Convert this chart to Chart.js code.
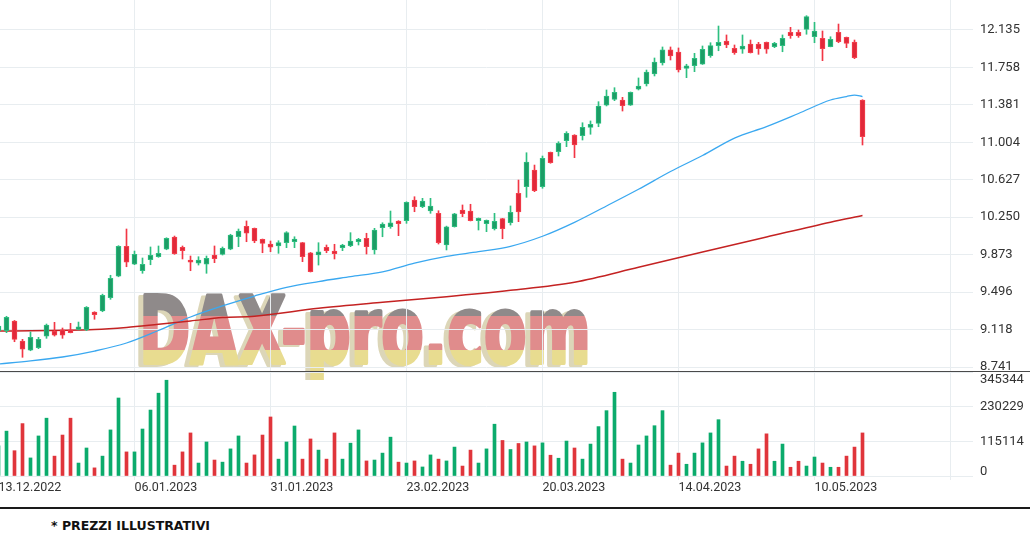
<!DOCTYPE html>
<html><head><meta charset="utf-8">
<script src="https://cdn.jsdelivr.net/npm/chart.js@4.4.0/dist/chart.umd.min.js"></script>
<style>
html,body{margin:0;padding:0;background:#fff;}
body{width:1030px;height:534px;position:relative;overflow:hidden;}
canvas{position:absolute;left:0;}
#pc{top:0;} #vc{top:372px;}
#wm{position:absolute;left:0;top:0;}
#sep{position:absolute;left:0;top:371px;width:1030px;height:1px;background:#4a4a4a;}
#fline{position:absolute;left:0;top:507px;width:1030px;height:2px;background:#1a1a1a;}
#foot{position:absolute;left:51px;top:519px;font:bold 12.5px/14px 'DejaVu Sans';color:#111;white-space:nowrap;}
</style></head><body>
<svg id="wm" width="1030" height="380">
  <defs>
    <linearGradient id="flag" gradientUnits="userSpaceOnUse" x1="0" y1="290" x2="0" y2="376">
      <stop offset="0" stop-color="#8f8a8a"/>
      <stop offset="0.302" stop-color="#8f8a8a"/>
      <stop offset="0.302" stop-color="#e08c8c"/>
      <stop offset="0.698" stop-color="#e08c8c"/>
      <stop offset="0.698" stop-color="#e8dc90"/>
      <stop offset="1" stop-color="#e8dc90"/>
    </linearGradient>
  </defs>
  <g font-family="DejaVu Sans" font-weight="bold" font-size="92" stroke-linejoin="round">
    <text x="134" y="365" fill="#dcd6b8" stroke="#dcd6b8" stroke-width="4" textLength="452" lengthAdjust="spacingAndGlyphs">DAX-pro.com</text>
    <text x="139" y="363" fill="url(#flag)" stroke="url(#flag)" stroke-width="4" textLength="452" lengthAdjust="spacingAndGlyphs">DAX-pro.com</text>
  </g>
</svg>
<canvas id="pc" width="1030" height="372"></canvas>
<div id="sep"></div>
<canvas id="vc" width="1030" height="128"></canvas>
<div id="fline"></div>
<div id="foot">* PREZZI ILLUSTRATIVI</div>
<script>
// ---- data ----
const xTickIdx = [0, 17, 34, 51, 68, 85, 102, 119];
const xTickLabels = ['13.12.2022', '06.01.2023', '31.01.2023', '23.02.2023', '20.03.2023', '14.04.2023', '10.05.2023', ''];
const priceTicks = [8741, 9118, 9496, 9873, 10250, 10627, 11004, 11381, 11758, 12135];
const volumeTicks = [0, 115114, 230229, 345344];

const opens = [9104,9107,9205,9003,8912,8936,9053,9104,9115,9115,9121,9115,9295,9305,9439,9655,9957,9776,9711,9822,
9852,9927,10050,9947,9819,9786,9776,9869,9876,9927,10053,10158,10138,10027,9980,9960,9993,10003,9993,9892,
9869,9947,9909,9943,9963,10003,10037,9920,10144,10154,10212,10215,10423,10356,10312,10289,9970,10154,10322,10312,
10215,10184,10134,10235,10194,10490,10557,10725,10557,10903,10909,11020,11078,11072,11155,11195,11377,11437,11430,11377,
11538,11591,11692,11803,11934,11913,11749,11775,11790,11876,11977,12024,11951,11941,11994,11994,12011,11967,11977,12112,
12112,12142,12067,12051,11967,12112,12061,12014,11430];
const highs = [9174,9252,9210,9020,9094,9040,9174,9191,9134,9181,9194,9350,9298,9475,9665,9963,10131,9909,9839,9950,
9960,10043,10060,9960,9859,9852,9859,9960,9950,10078,10131,10212,10141,10030,10010,10013,10104,10053,9996,9895,
9993,9970,9977,9977,10094,10037,10088,10138,10194,10312,10215,10405,10456,10440,10440,10315,10160,10289,10373,10380,
10242,10222,10289,10238,10363,10624,10899,10775,10866,10906,11010,11111,11081,11201,11219,11413,11531,11554,11457,11511,
11652,11732,11853,11964,11964,11954,11790,11900,11974,12007,12175,12085,11984,12085,12034,12011,12014,12011,12085,12162,
12135,12279,12212,12125,12067,12195,12064,12034,11433];
const lows = [9084,9087,8996,8839,8905,8926,9030,9053,9030,9085,9115,9107,9222,9298,9423,9650,9751,9772,9685,9771,
9846,9922,9876,9829,9711,9768,9685,9792,9869,9922,9953,10003,9993,9892,9902,9886,9943,9943,9802,9698,
9768,9892,9829,9913,9953,9970,9879,9879,10053,10138,10064,10188,10305,10346,10289,9980,9920,10150,10255,10212,
10121,10104,10121,10033,10171,10205,10450,10507,10541,10793,10866,10960,10849,11027,11085,11161,11370,11423,11319,11375,
11531,11571,11672,11782,11833,11712,11655,11715,11788,11860,11926,11957,11890,11900,11903,11890,11900,11957,11916,12051,
12061,12092,12007,11826,11965,12007,11957,11846,10977];
const closes = [9154,9242,9020,8920,9040,9020,9164,9061,9061,9087,9147,9343,9268,9463,9635,9957,9796,9876,9776,9866,
9886,10037,9882,9913,9796,9819,9836,9832,9937,10071,10111,10088,10010,9987,9947,9993,10094,10030,9852,9701,
9902,9913,9882,9970,10010,10027,9953,10121,10181,10194,10184,10400,10356,10413,10363,9993,10154,10285,10285,10215,
10239,10219,10209,10134,10299,10302,10806,10517,10843,10799,10994,11095,10977,11155,11185,11370,11470,11508,11373,11508,
11571,11712,11813,11934,11873,11732,11775,11850,11941,11977,12011,11984,11906,11974,11906,11947,11941,12001,12051,12077,
12077,12269,12125,11947,12041,12017,12001,11856,11060];
const volumes = [100000,149000,84000,174000,60000,133000,192000,66000,136000,192000,43000,93000,27000,66000,153000,259000,80000,80000,156000,219000,
275000,318000,36000,80000,143000,43000,113000,53000,46000,90000,133000,43000,70000,136000,196000,56000,113000,166000,56000,123000,
86000,56000,143000,56000,109000,153000,50000,53000,76000,129000,46000,43000,50000,30000,70000,56000,50000,96000,33000,86000,
43000,90000,172000,118000,88000,108000,113000,100000,110000,69000,59000,116000,93000,56000,106000,164000,217000,278000,56000,43000,
103000,133000,167000,217000,36000,76000,39000,76000,110000,143000,187000,33000,66000,49000,39000,90000,140000,49000,106000,29000,
49000,33000,63000,43000,29000,29000,66000,96000,143000];

const maFastIdx = [0,4,8,12,16,20,24,28,32,36,40,44,48,52,56,60,64,68,72,76,80,84,88,92,96,100,104,106,107,108];
const maFastVal = [8772,8802,8842,8902,8983,9109,9245,9356,9456,9544,9602,9651,9700,9787,9855,9903,9957,10058,10198,10363,
10531,10710,10871,11047,11162,11294,11430,11465,11480,11465];
const maSlowIdx = [0,12,16,20,24,28,32,40,48,56,64,72,80,88,96,104,108];
const maSlowVal = [9104,9119,9140,9172,9205,9240,9252,9332,9393,9449,9514,9595,9745,9899,10050,10200,10267];

// ---- rendering ----
const idx = opens.map((_, i) => i);
const up = i => closes[i] >= opens[i];
const GRID = '#e8edf0';
const X_MIN = 0.1875, X_MAX = 0.1875 + 973 / 8;
const fmt = v => String(v).replace(/\B(?=(\d{3})+(?!\d))/g, '.');
Chart.defaults.font.family = 'Roboto';

const common = {
  responsive: false, animation: false, devicePixelRatio: 1, events: [],
  layout: { padding: 0 },
  plugins: { legend: { display: false }, tooltip: { enabled: false } }
};

new Chart(document.getElementById('pc'), {
  type: 'bar',
  data: { datasets: [
    { type: 'line', data: maFastIdx.map((x, k) => ({ x, y: maFastVal[k] })), borderColor: '#3aa8f0', borderWidth: 1.3,
      pointRadius: 0, cubicInterpolationMode: 'monotone', order: 6 },
    { type: 'line', data: maSlowIdx.map((x, k) => ({ x, y: maSlowVal[k] })), borderColor: '#c42222', borderWidth: 1.5,
      pointRadius: 0, cubicInterpolationMode: 'monotone', order: 5 },
    { type: 'bar', data: idx.map(i => ({ x: i, y: [lows[i], highs[i]] })), barThickness: 1, grouped: false, borderWidth: 0,
      backgroundColor: c => up(c.dataIndex) ? '#2dbf80' : '#f23645', order: 4 },
    { type: 'bar', data: idx.map(i => ({ x: i, y: [Math.min(opens[i], closes[i]), Math.max(opens[i], closes[i])] })),
      barThickness: 5, grouped: false, minBarLength: 1, borderWidth: 1, borderSkipped: false,
      backgroundColor: c => up(c.dataIndex) ? '#1c9d66' : '#e1293a',
      borderColor: c => up(c.dataIndex) ? '#2dbf80' : '#f5404d', order: 3 }
  ]},
  options: Object.assign({}, common, {
    scales: {
      x: { type: 'linear', min: X_MIN, max: X_MAX, offset: false,
        grid: { color: GRID, drawTicks: false, offset: false }, border: { display: false },
        ticks: { display: false },
        afterBuildTicks: s => { s.ticks = xTickIdx.map(v => ({ value: v })); },
        afterFit: s => { s.height = 0; s.paddingLeft = 0; s.paddingRight = 0; } },
      y: { type: 'linear', position: 'right', min: 8691, max: 12437, beginAtZero: false,
        grid: { color: GRID, drawTicks: false }, border: { display: false },
        ticks: { color: '#333', font: { size: 13 }, padding: 7, callback: v => fmt(v) },
        afterBuildTicks: s => { s.ticks = priceTicks.map(v => ({ value: v })); },
        afterFit: s => { s.width = 57; s.paddingTop = 0; s.paddingBottom = 0; } }
    }
  })
});

const volLabels = {
  id: 'volLabels',
  afterDraw(chart) {
    const s = chart.scales.y, a = chart.chartArea, ctx = chart.ctx;
    ctx.save();
    ctx.font = '13px Roboto';
    ctx.fillStyle = '#333';
    ctx.textAlign = 'left';
    ctx.textBaseline = 'middle';
    volumeTicks.forEach(v => {
      const y = Math.min(Math.max(s.getPixelForValue(v), a.top + 8), a.bottom - 4);
      ctx.fillText(String(v), a.right + 7, y);
    });
    ctx.restore();
  }
};

new Chart(document.getElementById('vc'), {
  type: 'bar',
  data: { datasets: [
    { data: idx.map(i => ({ x: i, y: volumes[i] })), barThickness: 3, grouped: false, borderWidth: 0,
      backgroundColor: c => up(c.dataIndex) ? '#0bab6c' : '#e0353b' }
  ]},
  options: Object.assign({}, common, {
    scales: {
      x: { type: 'linear', min: X_MIN, max: X_MAX, offset: false,
        grid: { color: GRID, drawTicks: true, tickLength: 4, tickColor: GRID, offset: false }, border: { display: false },
        ticks: { color: '#333', font: { size: 12.5 }, align: 'start', padding: 0, autoSkip: false, maxRotation: 0, minRotation: 0,
          callback: (v, k) => xTickLabels[k] },
        afterBuildTicks: s => { s.ticks = xTickIdx.map(v => ({ value: v })); },
        afterFit: s => { s.height = 24; s.paddingLeft = 0; s.paddingRight = 0; } },
      y: { type: 'linear', position: 'right', min: 0, max: 345344, beginAtZero: true,
        grid: { color: GRID, drawTicks: false }, border: { display: false },
        ticks: { display: false },
        afterBuildTicks: s => { s.ticks = volumeTicks.map(v => ({ value: v })); },
        afterFit: s => { s.width = 57; s.paddingTop = 0; s.paddingBottom = 0; } }
    }
  }),
  plugins: [volLabels]
});
</script>
</body></html>
